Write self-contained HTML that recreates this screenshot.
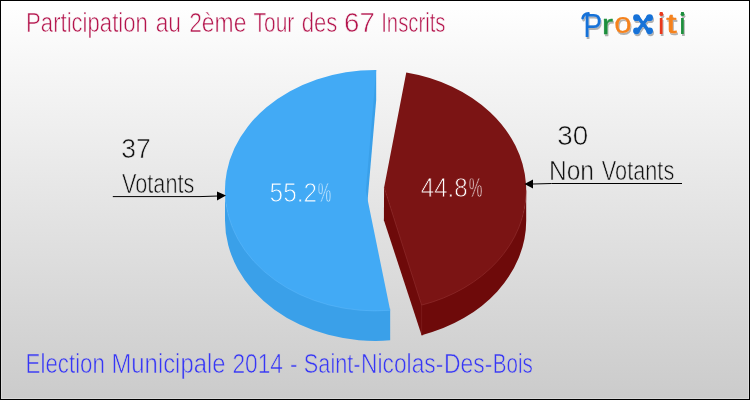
<!DOCTYPE html>
<html><head><meta charset="utf-8"><title>Participation au 2ème Tour</title>
<style>
html,body{margin:0;padding:0;background:#fff;}
body{width:750px;height:400px;overflow:hidden;}
svg{display:block;}
text{font-family:"Liberation Sans",sans-serif;}
</style></head><body>
<svg width="750" height="400" viewBox="0 0 750 400">
<defs>
<linearGradient id="bg" x1="0" y1="0" x2="0" y2="1">
<stop offset="0" stop-color="#ffffff"/><stop offset="1" stop-color="#cbcbcb"/>
</linearGradient>
<filter id="sh" x="-10%" y="-20%" width="120%" height="150%"><feGaussianBlur in="SourceAlpha" stdDeviation="0.7"/><feOffset dx="1.4" dy="1.6"/><feComponentTransfer><feFuncA type="linear" slope="0.3"/></feComponentTransfer><feMerge><feMergeNode/><feMergeNode in="SourceGraphic"/></feMerge></filter>
</defs>
<rect x="0" y="0" width="750" height="400" fill="#000"/>
<rect x="1" y="1" width="748" height="398" fill="url(#bg)"/>
<rect x="1.5" y="1.5" width="747" height="397" fill="none" stroke="#fff" stroke-opacity="0.28" stroke-width="1"/>

<!-- pie -->
<g>
<path d="M363.81,190.78 L374.20,70.90 L376.20,69.90 L376.20,99.90 L365.81,220.78 Z" fill="#3AA0E9"/>
<path d="M225.00,188.90 A150.6 120.5 0 0 0 390.17,308.83 L390.17,340.33 A150.6 120.5 0 0 1 225.00,220.40 Z" fill="#3AA0E9"/>
<path d="M384.10,186.60 L423.14,305.13 L423.14,335.13 L421.64,335.13 L383.90,220.30 Z" fill="#6E0A0A"/>
<path d="M421.64,303.63 A150.6 120.5 0 0 0 526.20,188.90 L526.20,220.40 A150.6 120.5 0 0 1 421.64,335.13 Z" fill="#6E0A0A"/>
<path d="M421.64,305.13 L421.64,335.13" stroke="#8a2a2a" stroke-opacity="0.5" stroke-width="1" fill="none"/>
<path d="M365.81,190.78 L376.20,69.90 A150.6 120.5 0 1 0 390.17,310.33 Z" fill="#42AAF5"/>
<path d="M384.10,187.60 L421.64,305.13 A150.6 120.5 0 0 0 406.27,72.43 Z" fill="#7B1414"/>
<path d="M225.00,190.40 A150.6 120.5 0 0 0 390.17,310.33" stroke="#6cc0ff" stroke-opacity="0.35" stroke-width="1" fill="none"/>
<path d="M384.10,187.60 L421.64,305.13 A150.6 120.5 0 0 0 526.20,190.40" stroke="#a04040" stroke-opacity="0.4" stroke-width="1" fill="none"/>
</g>

<!-- labels -->
<g opacity="0.999">
<text x="121.19" y="158.1" font-size="28" fill="#111" stroke="#ececec" stroke-width="0.6" textLength="29.46" lengthAdjust="spacingAndGlyphs">37</text>
<text x="122.02" y="192.5" font-size="27" fill="#111" stroke="#e7e7e7" stroke-width="0.6" textLength="72.34" lengthAdjust="spacingAndGlyphs">Votants</text>
<text x="557.35" y="145.1" font-size="28" fill="#111" stroke="#ededed" stroke-width="0.6" textLength="30.92" lengthAdjust="spacingAndGlyphs">30</text>
<text x="548.90" y="180" font-size="27" fill="#111" stroke="#e9e9e9" stroke-width="0.6" textLength="45.06" lengthAdjust="spacingAndGlyphs">Non</text>
<text x="601.82" y="180" font-size="27" fill="#111" stroke="#e9e9e9" stroke-width="0.6" textLength="72.44" lengthAdjust="spacingAndGlyphs">Votants</text>
</g>
<g stroke="#000" stroke-width="1" fill="none">
<path d="M112.8,196.6 L200,196.6 L218,196"/>
<path d="M682,183.5 L551.5,183.5 L533,184"/>
</g>
<path d="M226,195.5 L217,191.6 L217,200.6 Z" fill="#000"/>
<path d="M524.5,184 L533,179.4 L533,188.4 Z" fill="#000"/>

<g opacity="0.999">
<text x="269.57" y="202.2" font-size="28.5" fill="#ffffff" stroke="#42AAF5" stroke-width="0.9" textLength="47.49" lengthAdjust="spacingAndGlyphs">55.2</text>
<text x="317.86" y="202.2" font-size="28.5" fill="#ffffff" stroke="#42AAF5" stroke-width="0.9" textLength="13.46" lengthAdjust="spacingAndGlyphs">%</text>
<text x="420.75" y="197.2" font-size="28.5" fill="#ffffff" stroke="#7B1414" stroke-width="0.9" textLength="46.89" lengthAdjust="spacingAndGlyphs">44.8</text>
<text x="468.65" y="197.2" font-size="28.5" fill="#ffffff" stroke="#7B1414" stroke-width="0.9" textLength="13.68" lengthAdjust="spacingAndGlyphs">%</text>
<text x="26.09" y="31.8" font-size="27" fill="#B4144C" stroke="#fcfcfc" stroke-width="0.6" textLength="121.73" lengthAdjust="spacingAndGlyphs">Participation</text>
<text x="155.71" y="31.8" font-size="27" fill="#B4144C" stroke="#fcfcfc" stroke-width="0.6" textLength="25.35" lengthAdjust="spacingAndGlyphs">au</text>
<text x="189.15" y="31.8" font-size="27" fill="#B4144C" stroke="#fcfcfc" stroke-width="0.6" textLength="57.26" lengthAdjust="spacingAndGlyphs">2ème</text>
<text x="253.49" y="31.8" font-size="27" fill="#B4144C" stroke="#fcfcfc" stroke-width="0.6" textLength="40.79" lengthAdjust="spacingAndGlyphs">Tour</text>
<text x="301.73" y="31.8" font-size="27" fill="#B4144C" stroke="#fcfcfc" stroke-width="0.6" textLength="35.64" lengthAdjust="spacingAndGlyphs">des</text>
<text x="344.02" y="31.8" font-size="27" fill="#B4144C" stroke="#fcfcfc" stroke-width="0.6" textLength="30.78" lengthAdjust="spacingAndGlyphs">67</text>
<text x="381.24" y="31.8" font-size="27" fill="#B4144C" stroke="#fcfcfc" stroke-width="0.6" textLength="64.18" lengthAdjust="spacingAndGlyphs">Inscrits</text>
<text x="25.58" y="373.4" font-size="27" fill="#3636F6" stroke="#d0d0d0" stroke-width="0.6" textLength="79.36" lengthAdjust="spacingAndGlyphs">Election</text>
<text x="111.46" y="373.4" font-size="27" fill="#3636F6" stroke="#d0d0d0" stroke-width="0.6" textLength="114.09" lengthAdjust="spacingAndGlyphs">Municipale</text>
<text x="232.45" y="373.4" font-size="27" fill="#3636F6" stroke="#d0d0d0" stroke-width="0.6" textLength="50.59" lengthAdjust="spacingAndGlyphs">2014</text>
<text x="290.11" y="373.4" font-size="27" fill="#3636F6" stroke="#d0d0d0" stroke-width="0.6" textLength="7.60" lengthAdjust="spacingAndGlyphs">-</text>
<text x="303.84" y="373.4" font-size="27" fill="#3636F6" stroke="#d0d0d0" stroke-width="0.6" textLength="56.72" lengthAdjust="spacingAndGlyphs">Saint-</text>
<text x="361.04" y="373.4" font-size="27" fill="#3636F6" stroke="#d0d0d0" stroke-width="0.6" textLength="82.26" lengthAdjust="spacingAndGlyphs">Nicolas-</text>
<text x="444.03" y="373.4" font-size="27" fill="#3636F6" stroke="#d0d0d0" stroke-width="0.6" textLength="48.38" lengthAdjust="spacingAndGlyphs">Des-</text>
<text x="492.81" y="373.4" font-size="27" fill="#3636F6" stroke="#d0d0d0" stroke-width="0.6" textLength="40.01" lengthAdjust="spacingAndGlyphs">Bois</text>
</g>

<g filter="url(#sh)">
<text x="583.53" y="36.8" font-size="34" font-weight="normal" fill="#1872D8" stroke="#1872D8" stroke-width="0.2" stroke-linejoin="round" textLength="18.54" lengthAdjust="spacingAndGlyphs">P</text>
<path d="M582.6,18.2 C583.2,15.2 585.5,13.6 588.5,13.4" fill="none" stroke="#1872D8" stroke-width="2.6" stroke-linecap="round"/>
<text x="601.81" y="33.6" font-size="27" font-weight="normal" fill="#1F8F3C" stroke="#1F8F3C" stroke-width="0.3" stroke-linejoin="round" textLength="11.41" lengthAdjust="spacingAndGlyphs">r</text>
<text x="614.33" y="33.2" font-size="29" font-weight="normal" fill="#F5821E" stroke="#F5821E" stroke-width="0.2" stroke-linejoin="round" textLength="17.34" lengthAdjust="spacingAndGlyphs">o</text>
<text x="634.90" y="32.3" font-size="30" font-weight="normal" fill="#1872D8" stroke="#1872D8" stroke-width="1.0" stroke-linejoin="round" textLength="16.30" lengthAdjust="spacingAndGlyphs">x</text>
<g fill="#1872D8"><circle cx="636.5" cy="17.7" r="3.4"/><circle cx="649.6" cy="17.7" r="3.4"/><circle cx="636.5" cy="30.8" r="3.4"/><circle cx="649.6" cy="30.8" r="3.4"/></g>
<text x="657.87" y="34.3" font-size="30" font-weight="normal" fill="#E8381A" textLength="6.87" lengthAdjust="spacingAndGlyphs">i</text>
<circle cx="661.4" cy="14.2" r="1.9" fill="#E8381A"/>
<text x="666.25" y="33.4" font-size="27" font-weight="normal" fill="#F5821E" stroke="#F5821E" stroke-width="0.5" stroke-linejoin="round" textLength="10.37" lengthAdjust="spacingAndGlyphs">t</text>
<text x="678.97" y="34.3" font-size="30" font-weight="normal" fill="#1F8F3C" textLength="6.87" lengthAdjust="spacingAndGlyphs">i</text>
<circle cx="682.5" cy="14.2" r="1.9" fill="#1F8F3C"/>
</g>
</svg>
</body></html>
